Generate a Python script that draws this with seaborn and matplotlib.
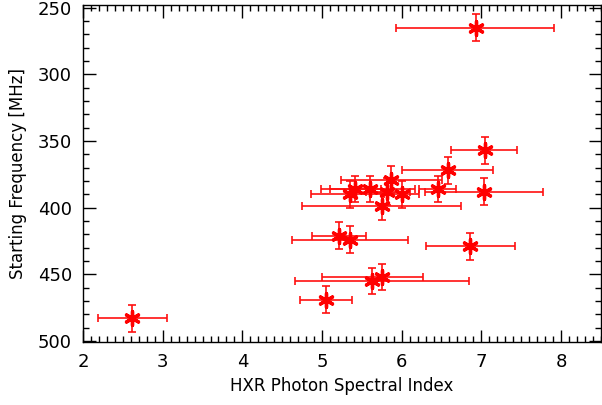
import numpy as np
import pandas as pd
import matplotlib
matplotlib.use("Agg")
import matplotlib.pyplot as plt
import seaborn as sns
from matplotlib.ticker import MultipleLocator

# Valores
spectral_index = [6.93, 7.05, 6.58, 5.87, 5.42, 5.60, 5.82, 6.45, 7.03, 5.35,
                  6.00, 5.75, 5.21, 5.35, 6.86, 5.63, 5.75, 5.05, 2.62]
start_freq = [265, 357, 372, 379, 386, 386, 388, 386, 388, 390,
              390, 399, 421, 424, 429, 455, 452, 469, 483]
index_low = [5.93, 6.62, 6.01, 5.24, 5.10, 4.99, 5.55, 6.22, 6.29, 4.86,
             5.78, 4.75, 4.88, 4.62, 6.30, 4.66, 5.00, 4.72, 2.19]
index_high = [7.91, 7.45, 7.15, 6.51, 5.74, 6.17, 6.10, 6.68, 7.78, 5.81,
              6.22, 6.74, 5.55, 6.08, 7.42, 6.85, 6.27, 5.38, 3.05]
freq_err = [10] * 19

df = pd.DataFrame({"x": spectral_index, "y": start_freq,
                   "xlo": index_low, "xhi": index_high, "yerr": freq_err})

sns.set_style("ticks")
plt.rcParams["font.family"] = ["DejaVu Sans"]
plt.rcParams["text.color"] = "black"
plt.rcParams["axes.labelcolor"] = "black"
plt.rcParams["xtick.color"] = "black"
plt.rcParams["ytick.color"] = "black"

fig = plt.figure(figsize=(6.02, 4.05), dpi=100)
ax = fig.add_axes([0.138, 0.155, 0.86, 0.833])

# Barras de error
xerr = np.array([df["x"] - df["xlo"], df["xhi"] - df["x"]])
ax.errorbar(df["x"], df["y"], xerr=xerr, yerr=df["yerr"], fmt="none",
            ecolor="#ff1010", elinewidth=1.2, capsize=3, capthick=1.2, zorder=2)

# Marcadores
sns.scatterplot(data=df, x="x", y="y", ax=ax, marker=(6, 2, 0), s=100,
                color="red", edgecolor="red", linewidth=2.4, zorder=3)

ax.set_xlim(2, 8.5)
ax.set_ylim(501, 248)
ax.xaxis.set_major_locator(MultipleLocator(1))
ax.xaxis.set_minor_locator(MultipleLocator(0.1))
ax.yaxis.set_major_locator(MultipleLocator(50))
ax.yaxis.set_minor_locator(MultipleLocator(10))
ax.tick_params(which="both", direction="in", top=True, right=True,
               labelsize=13, width=1, color="black", labelcolor="black")
ax.tick_params(which="major", length=9, pad=8)
ax.tick_params(which="minor", length=4.5)
for s in ax.spines.values():
    s.set_color("black")
    s.set_linewidth(1)

ax.set_xlabel("HXR Photon Spectral Index", fontsize=12, labelpad=4, color="black")
ax.set_ylabel("Starting Frequency [MHz]", fontsize=12, labelpad=8, color="black")

plt.savefig("out.png", dpi=100)
plt.close()
